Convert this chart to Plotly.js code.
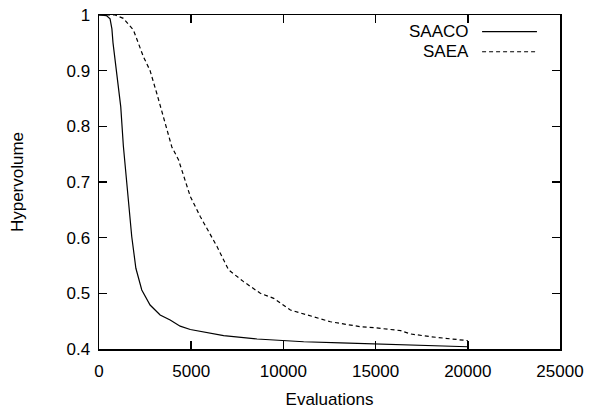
<!DOCTYPE html>
<html>
<head>
<meta charset="utf-8">
<script src="https://cdn.plot.ly/plotly-3.0.1.min.js"></script>
<style>html,body{margin:0;padding:0;background:#fff;}#chart{width:590px;height:409px;}</style>
</head>
<body>
<div id="chart"></div>
<script>
var saacoX = [0, 400, 600, 700, 760, 960, 1180, 1320, 1500, 1775, 2000, 2320, 2770, 3315, 3860, 4400, 4950, 5850, 6760, 8570, 10020, 11100, 13100, 15090, 17000, 20000];
var saacoY = [1.0, 0.999, 0.993, 0.975, 0.95, 0.90, 0.835, 0.765, 0.698, 0.602, 0.545, 0.506, 0.479, 0.461, 0.452, 0.441, 0.435, 0.429, 0.424, 0.418, 0.415, 0.413, 0.411, 0.409, 0.407, 0.404];
var saeaX = [0, 870, 1320, 1865, 2410, 2770, 3135, 3590, 3950, 4310, 4950, 5490, 6400, 7030, 7840, 8750, 9475, 10380, 11290, 12010, 12550, 14180, 15000, 16360, 16900, 18000, 20000];
var saeaY = [1.0, 1.0, 0.994, 0.973, 0.925, 0.90, 0.859, 0.805, 0.763, 0.740, 0.674, 0.638, 0.584, 0.542, 0.521, 0.500, 0.491, 0.470, 0.461, 0.455, 0.449, 0.440, 0.438, 0.433, 0.427, 0.422, 0.415];
var seriesNames = ['SAACO', 'SAEA'];
var xTicks = [0, 5000, 10000, 15000, 20000, 25000];
var yTicks = [0.4, 0.5, 0.6, 0.7, 0.8, 0.9, 1];
var yTickText = ['0.4', '0.5', '0.6', '0.7', '0.8', '0.9', '1'];

var FONT = 'Liberation Sans, Arial, Helvetica, sans-serif';
var traces = [
  {x: saacoX, y: saacoY, mode: 'lines', name: seriesNames[0], line: {color: '#000', width: 1.2}},
  {x: saeaX, y: saeaY, mode: 'lines', name: seriesNames[1], line: {color: '#000', width: 1.2, dash: '4px,3px'}}
];
var axisCommon = {
  showgrid: false, zeroline: false, showline: true, linecolor: '#000', linewidth: 1.5,
  mirror: 'ticks', ticks: 'inside', ticklen: 8, tickwidth: 1.5, tickcolor: '#000',
  tickfont: {family: FONT, size: 17, color: '#000'}
};
var layout = {
  width: 590, height: 409,
  margin: {l: 99, r: 30, t: 15, b: 60},
  paper_bgcolor: '#fff', plot_bgcolor: '#fff',
  showlegend: false,
  font: {family: FONT, size: 17, color: '#000'},
  xaxis: Object.assign({}, axisCommon, {
    range: [0, 25000], tickvals: xTicks, ticktext: xTicks.map(String), ticklabelstandoff: 6,
    title: {text: 'Evaluations', font: {family: FONT, size: 17, color: '#000'}, standoff: 15}
  }),
  yaxis: Object.assign({}, axisCommon, {
    range: [0.4, 1], tickvals: yTicks, ticktext: yTickText, ticklabelstandoff: 4,
    title: {text: 'Hypervolume', font: {family: FONT, size: 17, color: '#000'}, standoff: 38}
  }),
  annotations: [
    {xref: 'paper', yref: 'paper', x: 0.806, y: 0.95, xanchor: 'right', yanchor: 'middle', text: seriesNames[0], showarrow: false, font: {family: FONT, size: 17, color: '#000'}},
    {xref: 'paper', yref: 'paper', x: 0.806, y: 0.89, xanchor: 'right', yanchor: 'middle', text: seriesNames[1], showarrow: false, font: {family: FONT, size: 17, color: '#000'}}
  ],
  shapes: [
    {type: 'line', xref: 'paper', yref: 'paper', x0: 0.831, x1: 0.950, y0: 0.95, y1: 0.95, line: {color: '#000', width: 1.2}},
    {type: 'line', xref: 'paper', yref: 'paper', x0: 0.831, x1: 0.950, y0: 0.89, y1: 0.89, line: {color: '#000', width: 1.2, dash: '4px,3px'}}
  ]
};
Plotly.newPlot('chart', traces, layout, {displayModeBar: false, staticPlot: true});
</script>
</body>
</html>
